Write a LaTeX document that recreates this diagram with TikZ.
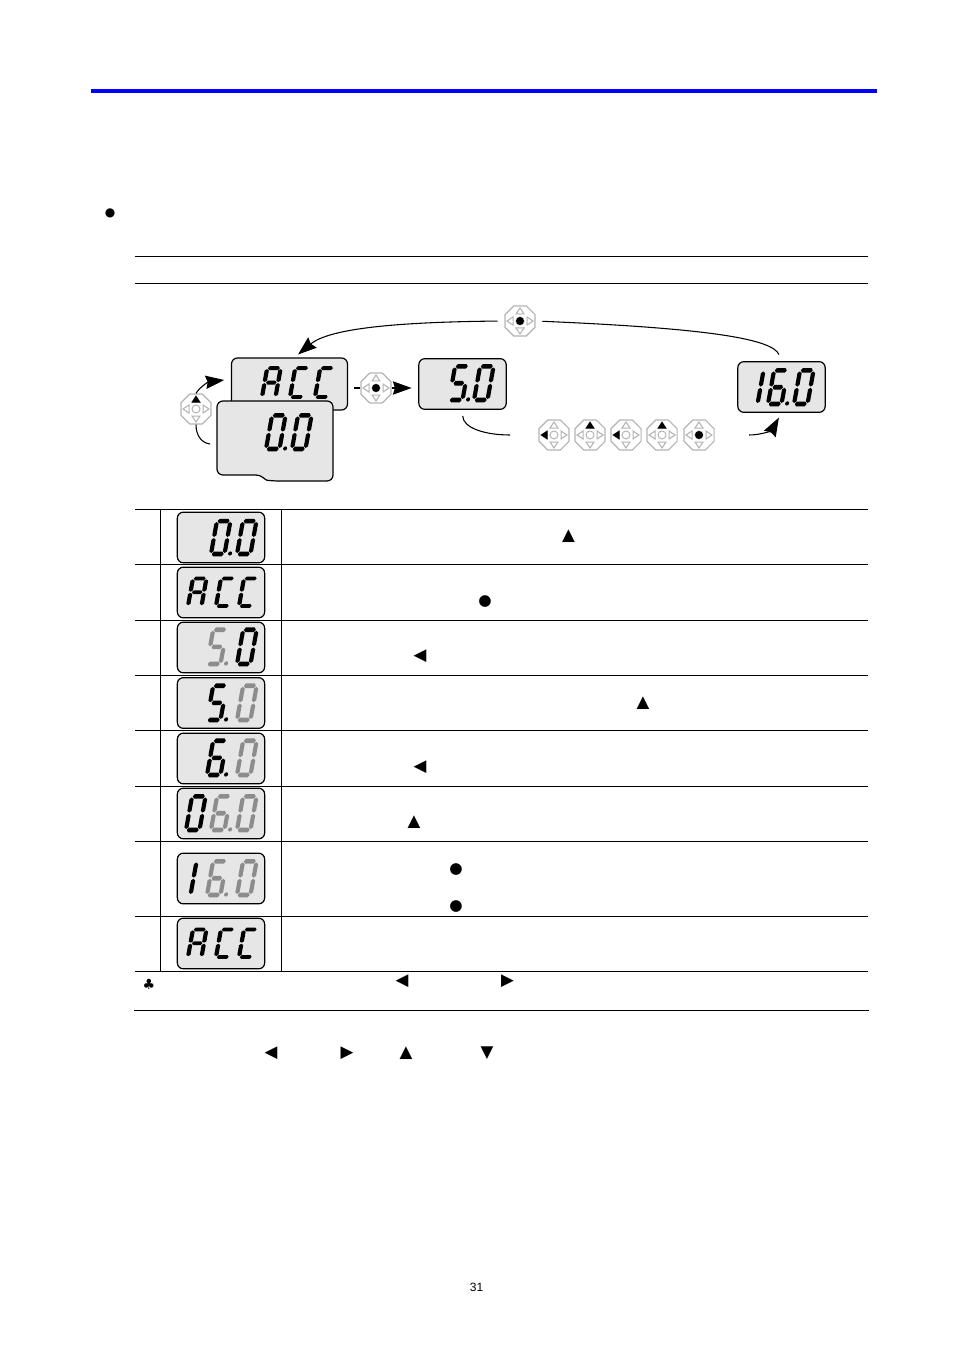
\documentclass[tikz,border=0pt]{standalone}
\usepackage{fontspec}
\usetikzlibrary{arrows.meta,shapes.geometric}
\setmainfont{Liberation Sans}
\newfontfamily\symfont{DejaVu Sans}
\definecolor{lcdbg}{HTML}{E6E6E6}
\definecolor{keygray}{HTML}{B4B4B4}
\definecolor{segoff}{HTML}{8C8C8C}
\tikzset{every path/.style={line width=.75pt}}
\tikzset{
  lcd/.style={draw,fill=lcdbg,rounded corners=4.5pt,inner sep=0pt,line width=.9pt,
    minimum width=65.5pt,minimum height=38pt},
  keybox/.style={draw=keygray,fill=white,regular polygon,regular polygon sides=8,
    inner sep=0pt,minimum size=24.5pt,line width=.9pt},
  sym/.style={inner sep=0pt,font=\symfont\fontsize{12.5pt}{12.5pt}\selectfont},
  dotsym/.style={inner sep=0pt,font=\symfont\fontsize{11.5pt}{11.5pt}\selectfont},
  conn/.style={line width=.8pt,>={Stealth[length=14pt,width=10pt,inset=1.5pt]}}
}
% one lit bar, lying and standing
\newcommand{\lcdh}[3]{\fill (#1,#3) -- ({#1+1.6},{#3-2.2}) -- ({#2-1.6},{#3-2.2}) -- (#2,#3)
  -- ({#2-1.6},{#3+2.2}) -- ({#1+1.6},{#3+2.2}) -- cycle;}
\newcommand{\lcdv}[3]{\fill (#1,#2) -- ({#1+2.1},{#2+1.6}) -- ({#1+2.1},{#3-1.6}) -- (#1,#3)
  -- ({#1-2.1},{#3-1.6}) -- ({#1-2.1},{#2+1.6}) -- cycle;}
% the seven segments and the decimal point
\newcommand{\lcdsega}{\lcdh{.8}{12.7}{-32}}
\newcommand{\lcdsegb}{\lcdv{13.5}{-31}{-16.6}}
\newcommand{\lcdsegc}{\lcdv{13.5}{-15.4}{-1}}
\newcommand{\lcdsegd}{\lcdh{.8}{12.7}{0}}
\newcommand{\lcdsege}{\lcdv{0}{-15.4}{-1}}
\newcommand{\lcdsegf}{\lcdv{0}{-31}{-16.6}}
\newcommand{\lcdsegg}{\lcdh{1.5}{12}{-16}}
\newcommand{\lcdsegp}{\fill (19,-.5) circle (2);}
% x, baseline, yscale, colour, segments
\newcommand{\lcdchar}[5]{
  \begin{scope}[shift={(#1,#2)},xslant=.18,yscale=#3,color=#4]
    \foreach \s in {#5} {\csname lcdseg\s\endcsname}
  \end{scope}
}
% the keypad parts
\newcommand{\keyup}{\fill (0,-13.5) -- (4.5,-6.5) -- (-4.5,-6.5) -- cycle;}
\newcommand{\keyleft}{\fill (-13.5,0) -- (-6.5,4.5) -- (-6.5,-4.5) -- cycle;}
\newcommand{\keydot}{\fill (0,0) circle (4);}
% name, x, y, lit part
\newcommand{\keypad}[4]{
  \node[keybox] (#1) at (#2,#3) {};
  \begin{scope}[shift={(#2,#3)}]
    \draw[keygray] (0,-13) -- (4,-7) -- (-4,-7) -- cycle;
    \draw[keygray] (0,13) -- (4,7) -- (-4,7) -- cycle;
    \draw[keygray] (-13,0) -- (-7,4) -- (-7,-4) -- cycle;
    \draw[keygray] (13,0) -- (7,4) -- (7,-4) -- cycle;
    \draw[keygray] (0,0) circle (4);
    #4
  \end{scope}
}
\begin{document}
\begin{tikzpicture}[x=.75pt,y=-.75pt]
  \useasboundingbox (0,0) rectangle (954,1351);
  \draw[blue,line width=3pt] (91,91) -- (877,91);
  \node[dotsym,font=\symfont\fontsize{9pt}{9pt}\selectfont] (bullet) at (110,213) {●};

  % rules of the table
  \draw (135,256.5) -- (868,256.5);
  \draw (135,283.5) -- (868,283.5);
  \draw (135,509.5) -- (868,509.5);
  \draw (135,564.5) -- (868,564.5);
  \draw (135,620.5) -- (868,620.5);
  \draw (135,675.5) -- (868,675.5);
  \draw (135,730.5) -- (868,730.5);
  \draw (135,786.5) -- (868,786.5);
  \draw (135,841.5) -- (868,841.5);
  \draw (135,916.5) -- (868,916.5);
  \draw (135,971.5) -- (868,971.5);
  \draw (134,1010.5) -- (869,1010.5);
  \draw (160.5,509.5) -- (160.5,971.5);
  \draw (281.5,509.5) -- (281.5,971.5);

  % the loop at the top
  \node[lcd,minimum width=87pt,minimum height=39pt] (acc) at (289.5,384) {};
  \lcdchar{262}{397}{.9}{black}{a,b,c,e,f,g}
  \lcdchar{290}{397}{.9}{black}{a,d,e,f}
  \lcdchar{315}{397}{.9}{black}{a,d,e,f}
  \draw[fill=lcdbg,line width=.9pt,rounded corners=4.5pt] (217,401) -- (333,401) -- (333,481)
    -- (273,481) .. controls (265,480) and (262,475) .. (250,475) -- (217,475) -- cycle;
  \lcdchar{266}{449}{1.05}{black}{a,b,c,d,e,f,p}
  \lcdchar{292}{449}{1.05}{black}{a,b,c,d,e,f}
  \node[lcd] (five) at (462.5,384) {};
  \lcdchar{449}{400}{1.05}{black}{a,f,g,c,d,p}
  \lcdchar{474}{400}{1.05}{black}{a,b,c,d,e,f}
  \node[lcd] (sixteen) at (781.5,387) {};
  \lcdchar{744}{404}{1.05}{black}{b,c}
  \lcdchar{768}{404}{1.05}{black}{a,f,g,c,d,e,p}
  \lcdchar{794}{404}{1.05}{black}{a,b,c,d,e,f}
  \keypad{ktop}{520}{321}{\keydot}
  \keypad{kup}{196}{409}{\keyup}
  \keypad{kset}{376}{388}{\keydot}
  \keypad{ka}{554}{435}{\keyleft}
  \keypad{kb}{590}{435}{\keyup}
  \keypad{kc}{626}{435}{\keyleft}
  \keypad{kd}{662}{435}{\keyup}
  \keypad{ke}{699}{435}{\keydot}
  \coordinate (zerogap) at (210,444);
  \coordinate (fivegap) at (510,435);
  \coordinate (sixteengap) at (749,435);
  \draw[conn,->] (ktop.west) [shorten <=5pt] .. controls (400,322) and (330,328)
    .. ([xshift=6.4pt,yshift=2.2pt]acc.north);
  \draw[conn,shorten >=5pt] ([xshift=-1.9pt,yshift=4.9pt]sixteen.north)
    .. controls (772,338) and (700,328) .. (ktop.east);
  \draw[conn] (zerogap) .. controls (202,443) and (196,436) .. (kup.south);
  \draw[conn,->] (kup.north) .. controls (199,388) and (208,382)
    .. ([xshift=-5pt,yshift=3pt]acc.west);
  \draw[conn] ([yshift=-3pt,xshift=4.5pt]acc.east) -- (kset.west);
  \draw[conn,->,shorten >=5pt] (kset.east) -- (kset.east -| five.west);
  \draw[conn,shorten <=4.5pt] (five.south) .. controls (463,428) and (485,435) .. (fivegap);
  \draw[conn,->,shorten >=4pt] (sixteengap) .. controls (762,435) and (772,430) .. (sixteen.south);

  % displays of the table
  \node[lcd] (row1) at (221,537.5) {};
  \lcdchar{211}{554}{1.03}{black}{a,b,c,d,e,f,p}
  \lcdchar{237}{554}{1.03}{black}{a,b,c,d,e,f}
  \node[lcd] (row2) at (221,592.5) {};
  \lcdchar{188}{606}{.86}{black}{a,b,c,e,f,g}
  \lcdchar{216}{606}{.86}{black}{a,d,e,f}
  \lcdchar{239}{606}{.86}{black}{a,d,e,f}
  \node[lcd] (row3) at (221,647.5) {};
  \lcdchar{207}{664}{1.07}{segoff}{a,f,g,c,d,p}
  \lcdchar{237}{664}{1.07}{black}{a,b,c,d,e,f}
  \node[lcd] (row4) at (221,703) {};
  \lcdchar{207}{720}{1.07}{black}{a,f,g,c,d,p}
  \lcdchar{237}{720}{1.07}{segoff}{a,b,c,d,e,f}
  \node[lcd] (row5) at (221,758.5) {};
  \lcdchar{207}{775}{1.07}{black}{a,f,g,c,d,e,p}
  \lcdchar{237}{775}{1.07}{segoff}{a,b,c,d,e,f}
  \node[lcd] (row6) at (221,813.5) {};
  \lcdchar{186}{830}{1.05}{black}{a,b,c,d,e,f}
  \lcdchar{211}{830}{1.05}{segoff}{a,f,g,c,d,e,p}
  \lcdchar{237}{830}{1.05}{segoff}{a,b,c,d,e,f}
  \node[lcd] (row7) at (221,878.5) {};
  \lcdchar{177}{895}{1.05}{black}{b,c}
  \lcdchar{207}{895}{1.05}{segoff}{a,f,g,c,d,e,p}
  \lcdchar{237}{895}{1.05}{segoff}{a,b,c,d,e,f}
  \node[lcd] (row8) at (221,943.5) {};
  \lcdchar{188}{957}{.86}{black}{a,b,c,e,f,g}
  \lcdchar{216}{957}{.86}{black}{a,d,e,f}
  \lcdchar{239}{957}{.86}{black}{a,d,e,f}

  % key marks in the text
  \node[sym] (mark1) at (568.5,536.5) {▲};
  \node[dotsym] (mark2) at (485,601.5) {●};
  \node[sym] (mark3) at (420,656.5) {◀};
  \node[sym] (mark4) at (643,703.5) {▲};
  \node[sym] (mark5) at (420,767.5) {◀};
  \node[sym] (mark6) at (414,822.5) {▲};
  \node[dotsym] (mark7) at (456,869.5) {●};
  \node[dotsym] (mark8) at (456,906.5) {●};
  \node[sym,font=\symfont\fontsize{10.5pt}{10.5pt}\selectfont] (club) at (149,984) {♣};
  \node[sym] (mark9) at (402,981.5) {◀};
  \node[sym] (mark10) at (507.5,981.5) {▶};
  \node[sym] (mark11) at (271,1053.5) {◀};
  \node[sym] (mark12) at (347,1053.5) {▶};
  \node[sym] (mark13) at (406,1053.5) {▲};
  \node[sym] (mark14) at (487,1053.5) {▼};
  \node[font=\fontsize{9pt}{11pt}\selectfont,inner sep=0pt] (page) at (476.5,1287) {31};
\end{tikzpicture}
\end{document}
